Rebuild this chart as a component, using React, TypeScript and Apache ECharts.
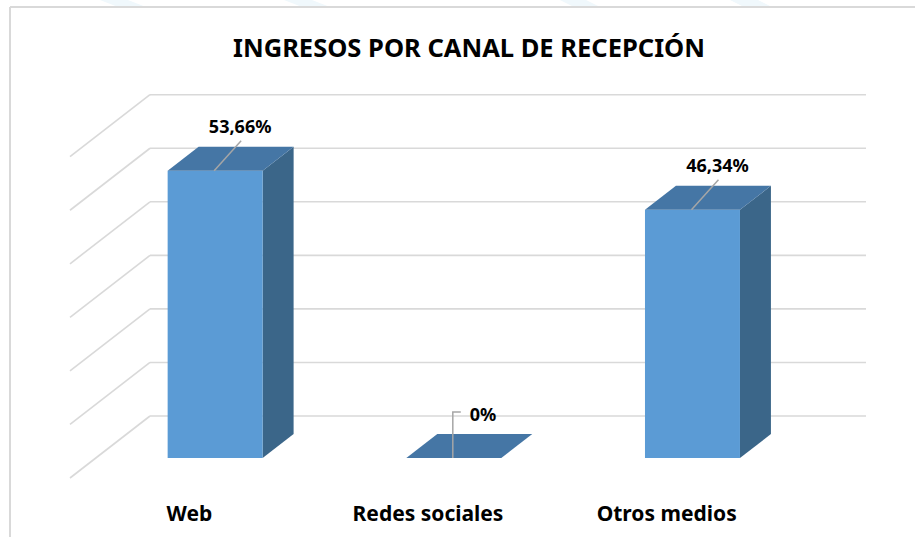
import React, { useEffect, useRef } from "react";
import * as echarts from "echarts";

const categories = ["Web", "Redes sociales", "Otros medios"];
const values = [53.66, 0, 46.34];
const valueLabels = ["53,66%", "0%", "46,34%"];
const yTicks = [0, 10, 20, 30, 40, 50, 60];
const chartTitle = "INGRESOS POR CANAL DE RECEPCIÓN";

const FONT = "'Noto Sans', 'DejaVu Sans', sans-serif";
const DEPTH_X = 80;
const DEPTH_Y = -62;
const F1 = 20 / 62;
const F2 = 44 / 62;
const BAR_RATIO = 0.398;

export default function App() {
  const ref = useRef<HTMLDivElement>(null);

  useEffect(() => {
    if (!ref.current) return;
    const chart = echarts.init(ref.current, undefined, { renderer: "svg" });

    const gridRender = (params: any, api: any) => {
      const v = api.value(1);
      const p = api.coord([0, v]);
      const cs = params.coordSys;
      const left = cs.x;
      const right = cs.x + cs.width;
      const y = p[1];
      const style = { stroke: "#D9D9D9", lineWidth: 1.6 };
      return {
        type: "group",
        children: [
          {
            type: "line",
            shape: { x1: left + DEPTH_X, y1: y + DEPTH_Y, x2: right + DEPTH_X, y2: y + DEPTH_Y },
            style,
          },
          {
            type: "line",
            shape: { x1: left, y1: y, x2: left + DEPTH_X, y2: y + DEPTH_Y },
            style,
          },
        ],
      };
    };

    const barRender = (params: any, api: any) => {
      const idx = params.dataIndex;
      const cat = api.value(0);
      const val = api.value(1);
      const base = api.coord([cat, 0]);
      const top = api.coord([cat, val]);
      const band = api.size([1, 0])[0];
      const w = band * BAR_RATIO;
      const ox = DEPTH_X * F1;
      const oy = DEPTH_Y * F1;
      const dx = DEPTH_X * (F2 - F1);
      const dy = DEPTH_Y * (F2 - F1);
      const x0 = base[0] - w / 2 + ox;
      const x1 = x0 + w;
      const yb = base[1] + oy;
      const yt = top[1] + oy;
      const xc = (x0 + x1) / 2;
      const children: any[] = [];
      if (yb - yt > 0.5) {
        children.push({
          type: "polygon",
          shape: { points: [[x1, yt], [x1 + dx, yt + dy], [x1 + dx, yb + dy], [x1, yb]] },
          style: { fill: "#3B6689" },
        });
        children.push({
          type: "rect",
          shape: { x: x0, y: yt, width: w, height: yb - yt },
          style: { fill: "#5B9BD5" },
        });
      }
      children.push({
        type: "polygon",
        shape: { points: [[x0, yt], [x1, yt], [x1 + dx, yt + dy], [x0 + dx, yt + dy]] },
        style: { fill: "#4576A5" },
      });
      const label = valueLabels[idx];
      if (val === 0) {
        children.push({
          type: "polyline",
          shape: { points: [[xc - 1, yb], [xc - 1, yb - 46], [xc + 7, yb - 46]] },
          style: { stroke: "#A6A6A6", lineWidth: 1.5, fill: null },
        });
        children.push({
          type: "text",
          x: xc + 16,
          y: yb - 44,
          style: {
            text: label,
            fill: "#000",
            font: `bold 18px ${FONT}`,
            textAlign: "left",
            textVerticalAlign: "middle",
          },
        });
      } else {
        children.push({
          type: "line",
          shape: { x1: xc - 1, y1: yt, x2: xc + 26, y2: yt - 30 },
          style: { stroke: "#A6A6A6", lineWidth: 1.5 },
        });
        children.push({
          type: "text",
          x: xc + 25,
          y: yt - 45,
          style: {
            text: label,
            fill: "#000",
            font: `bold 18px ${FONT}`,
            textAlign: "center",
            textVerticalAlign: "middle",
          },
        });
      }
      return { type: "group", children };
    };

    const watermark = [
      [[100, 0], [128, 0], [146, 7], [118, 7]],
      [[284, 0], [312, 0], [330, 7], [302, 7]],
      [[560, 0], [586, 0], [600, 7], [574, 7]],
      [[730, 0], [758, 0], [772, 7], [744, 7]],
    ];

    chart.setOption({
      animation: false,
      backgroundColor: "#ffffff",
      title: {
        text: chartTitle,
        left: 464,
        top: 29,
        textAlign: "center",
        textStyle: { fontFamily: FONT, fontWeight: "bold", fontSize: 25.5, color: "#000" },
      },
      graphic: [
        ...watermark.map((pts) => ({
          type: "polygon",
          shape: { points: pts },
          style: { fill: "#F0F8FC" },
          silent: true,
        })),
        {
          type: "line",
          shape: { x1: 10, y1: 7, x2: 915, y2: 7 },
          style: { stroke: "#D9D9D9", lineWidth: 2 },
          silent: true,
        },
        {
          type: "line",
          shape: { x1: 10, y1: 7, x2: 10, y2: 537 },
          style: { stroke: "#D9D9D9", lineWidth: 2 },
          silent: true,
        },
      ],
      grid: { left: 70, right: 129, top: 156.7, bottom: 59 },
      xAxis: {
        type: "category",
        data: categories,
        axisLine: { show: false },
        axisTick: { show: false },
        splitLine: { show: false },
        axisLabel: {
          margin: 24,
          color: "#000",
          fontFamily: FONT,
          fontWeight: "bold",
          fontSize: 21,
        },
      },
      yAxis: {
        type: "value",
        min: 0,
        max: 60,
        interval: 10,
        axisLine: { show: false },
        axisTick: { show: false },
        axisLabel: { show: false },
        splitLine: { show: false },
      },
      series: [
        {
          type: "custom",
          name: "grid",
          clip: false,
          silent: true,
          z: 1,
          renderItem: gridRender,
          data: yTicks.map((t) => [0, t]),
        },
        {
          type: "custom",
          name: "Ingresos",
          clip: false,
          z: 2,
          renderItem: barRender,
          data: values.map((v, i) => [i, v]),
        },
      ],
    });

    return () => chart.dispose();
  }, []);

  return (
    <div
      ref={ref}
      style={{ position: "fixed", left: 0, top: 0, width: 915, height: 537 }}
    />
  );
}
